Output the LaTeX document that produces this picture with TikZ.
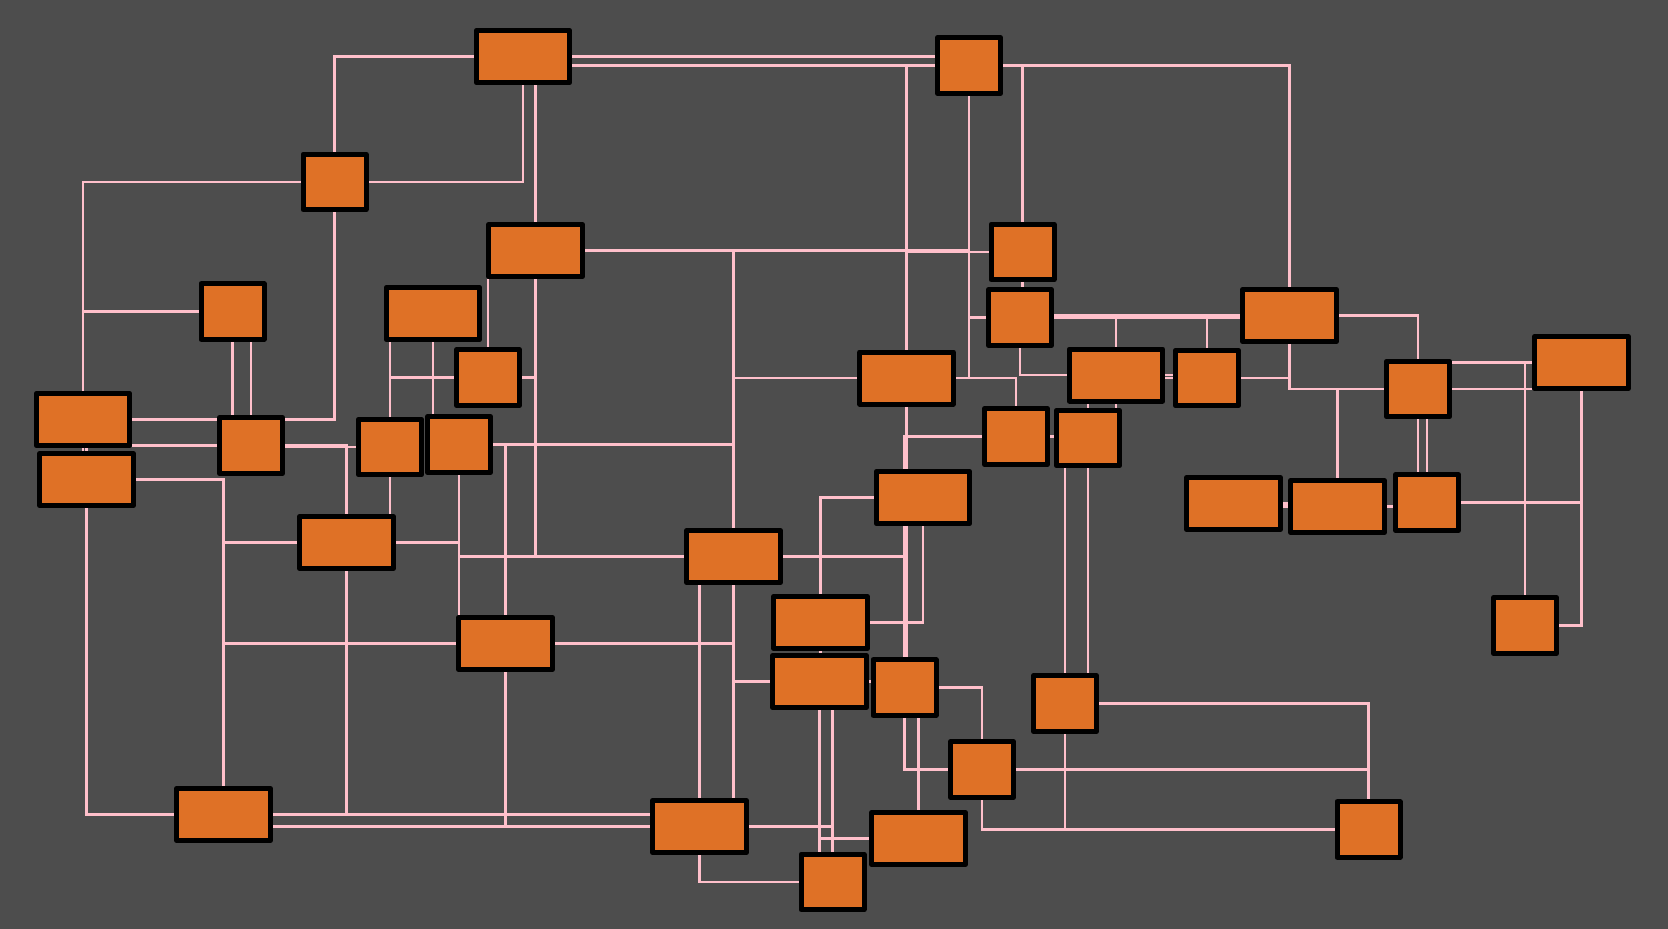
\documentclass[tikz,border=0pt]{standalone}
\definecolor{bggray}{RGB}{77,77,77}
\definecolor{boxorange}{RGB}{223,113,38}
\definecolor{wirepink}{RGB}{255,192,203}
\pgfdeclarelayer{bg}
\pgfdeclarelayer{wires}
\pgfsetlayers{bg,wires,main}
\begin{document}
\begin{tikzpicture}[x=1pt, y=-1pt, line join=round,
  box/.style={draw=black, fill=boxorange, line width=5pt, inner sep=0pt},
  wbox/.style={box, minimum width=93.5pt, minimum height=52pt},
  sbox/.style={box, minimum width=63pt, minimum height=55.5pt},
  wire/.style={draw=wirepink, line width=2.4pt}]
\begin{pgfonlayer}{bg}
\fill[bggray] (0,0) rectangle (1668,929);
\end{pgfonlayer}
% boxes
\node[wbox] (b1) at (523,56.5) {};
\node[sbox] (b2) at (334.5,182) {};
\node[sbox] (b3) at (232.5,311.5) {};
\node[wbox] (b4) at (535.5,250.5) {};
\node[wbox] (b5) at (433,313.5) {};
\node[sbox] (b6) at (488,377.5) {};
\node[wbox] (b7) at (83,419.5) {};
\node[sbox] (b8) at (251,445.5) {};
\node[sbox] (b9) at (390,447) {};
\node[sbox] (b10) at (459,444.5) {};
\node[wbox] (b11) at (86.5,479.5) {};
\node[sbox] (b12) at (969,65.5) {};
\node[sbox] (b13) at (1022.5,252) {};
\node[sbox] (b14) at (1020,317.5) {};
\node[wbox] (b15) at (906.5,378) {};
\node[sbox] (b16) at (1016,436.5) {};
\node[sbox] (b17) at (1088,438) {};
\node[wbox] (b18) at (1116,375) {};
\node[sbox] (b19) at (1207,378) {};
\node[wbox] (b20) at (1289.5,315.5) {};
\node[sbox] (b21) at (1418,389) {};
\node[wbox] (b22) at (1581.5,362.5) {};
\node[wbox] (b23) at (346.5,542.5) {};
\node[wbox] (b24) at (505.5,643.5) {};
\node[wbox] (b25) at (223.5,814.5) {};
\node[wbox] (b26) at (923,497.5) {};
\node[wbox] (b27) at (733.5,556.5) {};
\node[wbox] (b28) at (820.5,622.5) {};
\node[wbox] (b29) at (819.5,681.5) {};
\node[sbox] (b30) at (904.5,687.5) {};
\node[sbox] (b31) at (1065,703.5) {};
\node[sbox] (b32) at (982,769.5) {};
\node[wbox] (b33) at (699.5,826.5) {};
\node[wbox] (b34) at (918.5,838.5) {};
\node[sbox] (b35) at (832.5,882) {};
\node[wbox] (b36) at (1233.5,503.5) {};
\node[wbox] (b37) at (1337.5,506.5) {};
\node[sbox] (b38) at (1427,502.5) {};
\node[sbox] (b39) at (1525,625.5) {};
\node[sbox] (b40) at (1368.5,829.5) {};
% wires
\begin{pgfonlayer}{wires}
\draw[wire] (b1.west) -| (b2.north) (b2.west) -| (b7.north) (b3.west) -| (b7.north)
 (b2.east) -| (b1.south) (b2.south) |- (b7.east)
 (b4.north |- b1.south) -- (b4.north) (b4.south) |- (b27.west)
 (b4.east) -| (b12.south) (b4.east) -| (b27.north) (b13.west) -| (b15.north)
 (b6.north) -- (b6.north |- b4.south) (b6.east) -| (b4.south) (b6.west) -| (b9.north)
 (b5.south -| b9.north) -- (b9.north) (b5.south) -- (b5.south |- b10.north)
 (b3.south) -- (b3.south |- b8.north) (b8.north) -- (b8.north |- b3.south)
 (b7.south) -- (b7.south |- b11.north) (b11.north) -- (b11.north |- b7.south)
 (b8.west) -- (b8.west -| b7.east) (b9.west) -- (b9.west -| b8.east)
 (b8.east) -| (b23.north) (b9.south) -- (b9.south |- b23.north);
\draw[wire] (b10.south) -- (b10.south |- b24.north) (b10.south) |- (b27.west)
 (b10.east) -| (b24.north) (b10.east) -| (b27.north) (b23.east) -| (b10.south)
 (b11.east) -| (b25.north) (b23.west) -| (b25.north) (b24.west) -| (b25.north)
 (b11.south) |- (b25.west) (b23.south) |- (b25.east) (b24.south) |- (b33.west)
 (b25.east) -- (b25.east -| b33.west) (b33.west) -- (b33.west -| b25.east)
 (b24.east) -| (b27.south) (b27.south) -- (b27.south |- b33.north)
 (b33.north) -- (b33.north |- b27.south) (b29.west) -| (b27.south);
\draw[wire] (b1.east) -- (b1.east -| b12.west) (b12.west) -- (b12.west -| b1.east)
 (b12.west) -| (b15.north) (b12.east) -| (b20.north) (b12.east) -| (b13.north)
 (b12.south) |- (b14.west) (b12.south) |- (b15.east)
 (b13.south) -- (b13.south |- b14.north) (b18.west) -| (b14.south)
 (b14.east) -- (b14.east -| b20.west) (b20.west) -- (b20.west -| b14.east)
 (b14.east) -| (b18.north) (b20.west) -| (b19.north)
 (b15.west) -| (b27.north) (b15.east) -| (b16.north)
 (b15.south) -- (b15.south |- b30.north) (b16.west) -| (b30.north)
 (b16.east) -- (b16.east -| b17.west) (b18.south) -- (b18.south |- b17.north)
 (b17.north) -- (b17.north |- b18.south) (b17.south) -- (b17.south |- b31.north)
 (b31.north) -- (b31.north |- b17.south)
 (b18.east) -- (b18.east -| b19.west) (b19.west) -- (b19.west -| b18.east);
\draw[wire] (b19.east) -| (b20.south) (b20.south) |- (b21.west)
 (b21.west) -| (b37.north) (b20.east) -| (b21.north)
 (b22.west) -- (b22.west -| b21.east) (b22.west) -| (b39.north)
 (b21.east) -- (b21.east -| b22.west) (b22.south) |- (b38.east) (b22.south) |- (b39.east)
 (b21.south) -- (b21.south |- b38.north) (b38.north) -- (b38.north |- b21.south)
 (b36.east) -- (b36.east -| b37.west) (b37.west) -- (b37.west -| b36.east)
 (b37.east) -- (b37.east -| b38.west);
\draw[wire] (b26.west) -| (b28.north) (b26.south) |- (b28.east) (b27.east) -| (b30.north)
 (b28.south) -- (b28.south |- b29.north) (b29.east) -- (b29.east -| b30.west)
 (b29.south) -- (b29.south |- b35.north) (b35.north) -- (b35.north |- b29.south)
 (b33.east) -| (b35.north) (b34.west) -| (b29.south) (b33.south) |- (b35.west)
 (b30.south) |- (b32.west) (b30.east) -| (b32.north) (b30.south -| b34.north) -- (b34.north)
 (b31.east) -| (b40.north) (b32.east) -| (b40.north)
 (b40.west) -| (b32.south) (b31.south) |- (b40.west);
\end{pgfonlayer}
\end{tikzpicture}
\end{document}
